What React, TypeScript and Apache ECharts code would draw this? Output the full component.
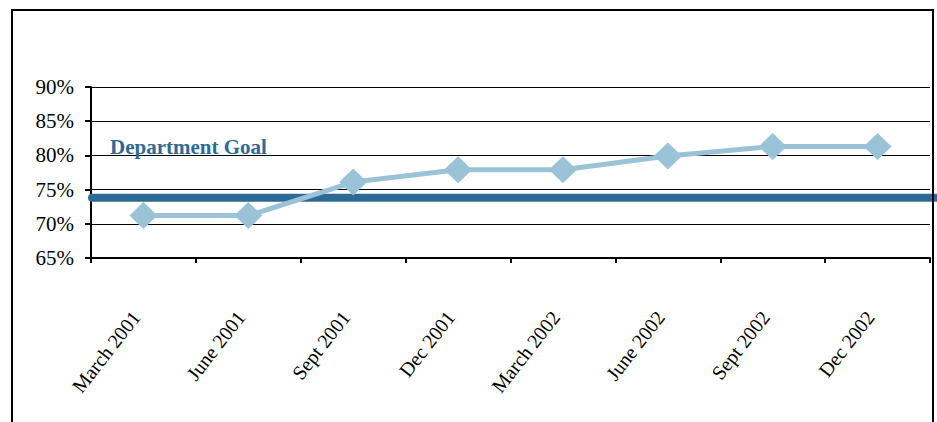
import React, { useEffect, useRef } from "react";
import * as echarts from "echarts";

const categories = [
  "March 2001",
  "June 2001",
  "Sept 2001",
  "Dec 2001",
  "March 2002",
  "June 2002",
  "Sept 2002",
  "Dec 2002",
];
const values = [71.2, 71.2, 76.1, 77.9, 77.9, 79.9, 81.3, 81.3];
const goalValue = 73.8;
const goalLabel = "Department Goal";
const yMin = 65;
const yMax = 90;
const yStep = 5;

const FONT = "'Liberation Serif', 'Times New Roman', serif";

export default function App() {
  const ref = useRef<HTMLDivElement>(null);
  useEffect(() => {
    if (!ref.current) return;
    const chart = echarts.init(ref.current, undefined, { renderer: "svg" });
    chart.setOption({
      animation: false,
      backgroundColor: "#ffffff",
      textStyle: { fontFamily: FONT },
      grid: [
        { left: 91, right: 7, top: 87, bottom: 164, containLabel: false },
        { left: 92, right: 0, top: 87, bottom: 164, containLabel: false },
      ],
      xAxis: [
        {
          type: "category",
          gridIndex: 0,
          data: categories,
          boundaryGap: true,
          axisLine: { show: true, lineStyle: { color: "#000", width: 2 } },
          axisTick: {
            show: true,
            alignWithLabel: false,
            length: 5,
            lineStyle: { color: "#000", width: 2 },
          },
          axisLabel: {
            interval: 0,
            rotate: 52,
            margin: 46,
            padding: [0, 12, 0, 0],
            color: "#000",
            fontFamily: FONT,
            fontSize: 20,
          },
          splitLine: { show: false },
        },
        {
          type: "value",
          gridIndex: 1,
          min: 0,
          max: 1,
          show: false,
        },
      ],
      yAxis: [
        {
          type: "value",
          gridIndex: 0,
          min: yMin,
          max: yMax,
          interval: yStep,
          axisLine: { show: true, lineStyle: { color: "#000", width: 2 } },
          axisTick: { show: true, length: 6, lineStyle: { color: "#000", width: 2 } },
          axisLabel: {
            formatter: "{value}%",
            color: "#000",
            fontFamily: FONT,
            fontSize: 21,
            margin: 17,
          },
          splitLine: { show: true, lineStyle: { color: "#000", width: 1.2 } },
        },
        {
          type: "value",
          gridIndex: 1,
          min: yMin,
          max: yMax,
          show: false,
        },
      ],
      graphic: [
        {
          type: "rect",
          shape: { x: 12, y: 10, width: 921, height: 440 },
          style: { fill: "none", stroke: "#000", lineWidth: 2 },
          z: 100,
          silent: true,
        },
        {
          type: "text",
          x: 110,
          y: 147,
          style: {
            text: goalLabel,
            fill: "#2E6A96",
            font: `bold 21px ${FONT}`,
            verticalAlign: "middle",
            align: "left",
          },
          z: 100,
        },
      ],
      series: [
        {
          type: "line",
          xAxisIndex: 1,
          yAxisIndex: 1,
          data: [
            [0, goalValue],
            [1, goalValue],
          ],
          symbol: "none",
          clip: false,
          lineStyle: { color: "#2E6A96", width: 8, cap: "round" },
          z: 2,
        },
        {
          type: "line",
          xAxisIndex: 0,
          yAxisIndex: 0,
          data: values,
          symbol: "diamond",
          symbolSize: [28, 27],
          lineStyle: { color: "#9AC3D8", width: 5 },
          itemStyle: { color: "#9AC3D8" },
          z: 3,
        },
      ],
    });
    return () => chart.dispose();
  }, []);
  return (
    <div
      ref={ref}
      style={{ position: "absolute", left: 0, top: 0, width: 937, height: 422 }}
    />
  );
}
